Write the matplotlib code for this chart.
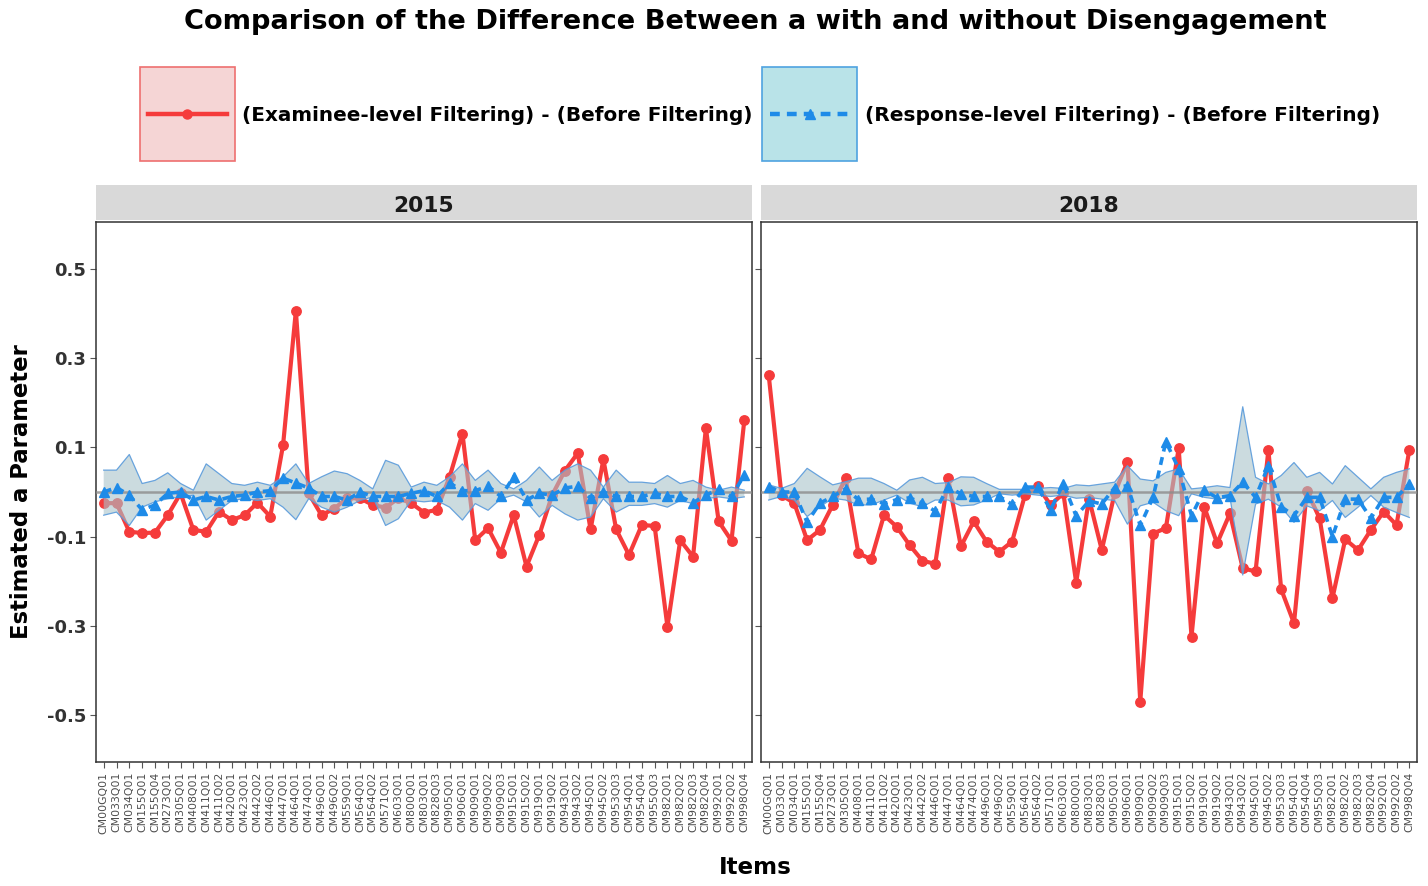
import numpy as np
import matplotlib
matplotlib.use("Agg")
import matplotlib.pyplot as plt
from matplotlib.patches import Rectangle
from matplotlib.lines import Line2D

plt.rcParams['font.family'] = ['DejaVu Sans']

items = ["CM00GQ01", "CM033Q01", "CM034Q01", "CM155Q01", "CM155Q04", "CM273Q01",
         "CM305Q01", "CM408Q01", "CM411Q01", "CM411Q02", "CM420Q01", "CM423Q01",
         "CM442Q02", "CM446Q01", "CM447Q01", "CM464Q01", "CM474Q01", "CM496Q01",
         "CM496Q02", "CM559Q01", "CM564Q01", "CM564Q02", "CM571Q01", "CM603Q01",
         "CM800Q01", "CM803Q01", "CM828Q03", "CM905Q01", "CM906Q01", "CM909Q01",
         "CM909Q02", "CM909Q03", "CM915Q01", "CM915Q02", "CM919Q01", "CM919Q02",
         "CM943Q01", "CM943Q02", "CM945Q01", "CM945Q02", "CM953Q03", "CM954Q01",
         "CM954Q04", "CM955Q03", "CM982Q01", "CM982Q02", "CM982Q03", "CM982Q04",
         "CM992Q01", "CM992Q02", "CM998Q04"]

years = ["2015", "2018"]

# (Examinee-level Filtering) - (Before Filtering)
examinee_2015 = [-0.025, -0.025, -0.089, -0.092, -0.091, -0.052, -0.003, -0.085, -0.089, -0.044,
                 -0.063, -0.052, -0.024, -0.055, 0.105, 0.406, -0.003, -0.052, -0.037, -0.014,
                 -0.014, -0.029, -0.035, -0.014, -0.025, -0.046, -0.040, 0.034, 0.131, -0.108,
                 -0.081, -0.136, -0.052, -0.167, -0.096, -0.007, 0.048, 0.087, -0.084, 0.073,
                 -0.084, -0.141, -0.074, -0.076, -0.302, -0.108, -0.145, 0.143, -0.066, -0.109,
                 0.161]
examinee_2018 = [0.262, -0.007, -0.025, -0.108, -0.085, -0.029, 0.031, -0.137, -0.151, -0.052,
                 -0.078, -0.119, -0.154, -0.161, 0.031, -0.122, -0.066, -0.111, -0.134, -0.111,
                 -0.007, 0.013, -0.029, -0.003, -0.203, -0.015, -0.130, -0.003, 0.068, -0.470,
                 -0.093, -0.081, 0.098, -0.324, -0.034, -0.115, -0.048, -0.171, -0.178, 0.094,
                 -0.218, -0.294, 0.003, -0.059, -0.238, -0.106, -0.130, -0.085, -0.044, -0.074,
                 0.094]

# (Response-level Filtering) - (Before Filtering)
response_2015 = [0.000, 0.010, -0.007, -0.040, -0.029, -0.003, 0.000, -0.018, -0.010, -0.018,
                 -0.010, -0.007, 0.000, 0.003, 0.031, 0.020, 0.009, -0.010, -0.010, -0.018,
                 0.000, -0.010, -0.010, -0.010, -0.003, 0.003, -0.010, 0.020, 0.003, 0.003,
                 0.013, -0.010, 0.034, -0.018, -0.003, -0.007, 0.009, 0.013, -0.014, 0.000,
                 -0.010, -0.010, -0.010, -0.003, -0.010, -0.010, -0.024, -0.007, 0.006, -0.010,
                 0.038]
response_2018 = [0.012, 0.000, 0.000, -0.068, -0.025, -0.010, 0.007, -0.017, -0.016, -0.026,
                 -0.017, -0.013, -0.025, -0.043, 0.011, -0.004, -0.010, -0.010, -0.010, -0.028,
                 0.011, 0.011, -0.040, 0.019, -0.054, -0.020, -0.027, 0.010, 0.014, -0.075,
                 -0.012, 0.113, 0.052, -0.053, 0.004, -0.013, -0.008, 0.022, -0.012, 0.059,
                 -0.033, -0.053, -0.012, -0.012, -0.100, -0.016, -0.016, -0.059, -0.012, -0.012,
                 0.018]

# shaded band (upper / lower bound)
upper_2015 = [0.049, 0.049, 0.084, 0.019, 0.026, 0.043, 0.019, 0.004, 0.063, 0.041,
              0.019, 0.015, 0.022, 0.015, 0.034, 0.063, 0.019, 0.034, 0.047, 0.041,
              0.026, 0.007, 0.071, 0.060, 0.011, 0.022, 0.015, 0.034, 0.063, 0.026,
              0.049, 0.019, 0.007, 0.026, 0.056, 0.026, 0.049, 0.063, 0.049, 0.011,
              0.049, 0.022, 0.022, 0.019, 0.037, 0.019, 0.026, 0.011, 0.004, 0.011,
              0.004]
lower_2015 = [-0.052, -0.045, -0.075, -0.034, -0.022, -0.015, -0.011, -0.007, -0.063, -0.041,
              -0.019, -0.015, -0.019, -0.015, -0.034, -0.062, -0.015, -0.034, -0.045, -0.034,
              -0.019, -0.011, -0.075, -0.060, -0.019, -0.022, -0.019, -0.034, -0.063, -0.026,
              -0.041, -0.015, -0.007, -0.022, -0.056, -0.030, -0.049, -0.063, -0.056, -0.015,
              -0.045, -0.030, -0.030, -0.026, -0.034, -0.019, -0.026, -0.015, -0.011, -0.015,
              -0.011]
upper_2018 = [0.016, 0.008, 0.019, 0.053, 0.034, 0.016, 0.023, 0.031, 0.031, 0.019,
              0.004, 0.027, 0.033, 0.019, 0.021, 0.034, 0.033, 0.019, 0.006, 0.006,
              0.006, 0.008, 0.010, 0.008, 0.016, 0.014, 0.018, 0.022, 0.059, 0.029,
              0.025, 0.044, 0.052, 0.007, 0.010, 0.014, 0.010, 0.191, 0.033, 0.018,
              0.037, 0.066, 0.033, 0.044, 0.018, 0.059, 0.033, 0.007, 0.033, 0.044,
              0.052]
lower_2018 = [-0.018, -0.010, -0.018, -0.055, -0.033, -0.014, -0.018, -0.029, -0.029, -0.018,
              -0.007, -0.025, -0.033, -0.018, -0.018, -0.031, -0.029, -0.018, -0.004, -0.007,
              -0.004, -0.007, -0.010, -0.007, -0.014, -0.012, -0.016, -0.019, -0.072, -0.031,
              -0.023, -0.042, -0.053, -0.004, -0.012, -0.016, -0.012, -0.186, -0.027, -0.016,
              -0.034, -0.068, -0.031, -0.042, -0.019, -0.057, -0.034, -0.008, -0.034, -0.046,
              -0.057]

yticks = [0.5, 0.3, 0.1, -0.1, -0.3, -0.5]

RED = "#F53B3B"
BLUE = "#1E8BE8"
BAND = "#A9C3CA"
BAND_EDGE = "#5A9BDB"
HLINE = "#8C8C8C"

W, H = 1428, 886
fig = plt.figure(figsize=(W / 100, H / 100), dpi=100)

examinee = {"2015": examinee_2015, "2018": examinee_2018}
response = {"2015": response_2015, "2018": response_2018}
upper = {"2015": upper_2015, "2018": upper_2018}
lower = {"2015": lower_2015, "2018": lower_2018}

panel_left = [96, 761]
panel_w = 656
top, bottom = 222, 762
x = np.arange(len(items))

for k, yr in enumerate(years):
    l = panel_left[k]
    ax = fig.add_axes([l / W, 1 - bottom / H, panel_w / W, (bottom - top) / H])
    ax.plot(x, examinee[yr], color=RED, lw=3.0, marker="o", ms=6.8, zorder=2)
    ax.fill_between(x, lower[yr], upper[yr], facecolor=BAND, alpha=0.6,
                    edgecolor="none", zorder=3)
    ax.plot(x, upper[yr], color=BAND_EDGE, lw=0.9, alpha=0.9, zorder=3)
    ax.plot(x, lower[yr], color=BAND_EDGE, lw=0.9, alpha=0.9, zorder=3)
    ax.axhline(0, color=HLINE, lw=1.8, alpha=0.8, zorder=4)
    ax.plot(x, response[yr], color=BLUE, lw=2.6, ls=(0, (2.2, 1.6)),
            marker="^", ms=7.5, zorder=5)
    ax.set_xlim(-0.6, len(items) - 0.4)
    ax.set_ylim(-0.605, 0.605)
    ax.set_xticks(x)
    ax.set_xticklabels(items, rotation=90, fontsize=7.8, color="#4D4D4D")
    ax.set_yticks(yticks)
    if k == 0:
        ax.set_yticklabels([f"{v:g}" for v in yticks], fontsize=13,
                           fontweight="bold", color="#333333")
    else:
        ax.set_yticklabels([])
    ax.tick_params(axis="both", length=4, width=0.8, color="#555555", pad=3)
    for s in ax.spines.values():
        s.set_color("#333333")
        s.set_linewidth(1.1)
    # facet strip
    sax = fig.add_axes([l / W, 1 - 220 / H, panel_w / W, 35 / H])
    sax.set_facecolor("#D9D9D9")
    sax.set_xticks([])
    sax.set_yticks([])
    for s in sax.spines.values():
        s.set_visible(False)
    sax.text(0.5, 0.4, yr, ha="center", va="center", fontsize=15.7,
             fontweight="bold", color="#1A1A1A", transform=sax.transAxes)

fig.text(755 / W, 1 - 22 / H, "Comparison of the Difference Between a with and without Disengagement",
         ha="center", va="center", fontsize=19.6, fontweight="bold")
fig.text(22 / W, 1 - 492 / H, "Estimated a Parameter", rotation=90, ha="center",
         va="center", fontsize=16.4, fontweight="bold")
fig.text(755 / W, 1 - 868 / H, "Items", ha="center", va="center",
         fontsize=16.6, fontweight="bold")

# legend drawn in pixel space
lax = fig.add_axes([0, 0, 1, 1])
lax.set_xlim(0, W)
lax.set_ylim(H, 0)
lax.axis("off")
lax.patch.set_alpha(0)
lax.add_patch(Rectangle((140, 67), 95, 94, facecolor="#F5D5D5", edgecolor="#EE7070", lw=1.2))
lax.add_line(Line2D([148, 227], [114, 114], color=RED, lw=3.2))
lax.add_line(Line2D([187], [114], color=RED, marker="o", ms=6.5, lw=0))
lax.text(242, 115, "(Examinee-level Filtering) - (Before Filtering)", ha="left",
         va="center", fontsize=14.4, fontweight="bold")
lax.add_patch(Rectangle((762, 67), 95, 94, facecolor="#B9E3E8", edgecolor="#4FA3E0", lw=1.2))
lax.add_line(Line2D([770, 850], [114, 114], color=BLUE, lw=3.2, ls=(0, (2.2, 1.6))))
lax.add_line(Line2D([810], [114], color=BLUE, marker="^", ms=7.5, lw=0))
lax.text(865, 115, "(Response-level Filtering) - (Before Filtering)", ha="left",
         va="center", fontsize=14.5, fontweight="bold")

fig.savefig("out.png", dpi=100)
